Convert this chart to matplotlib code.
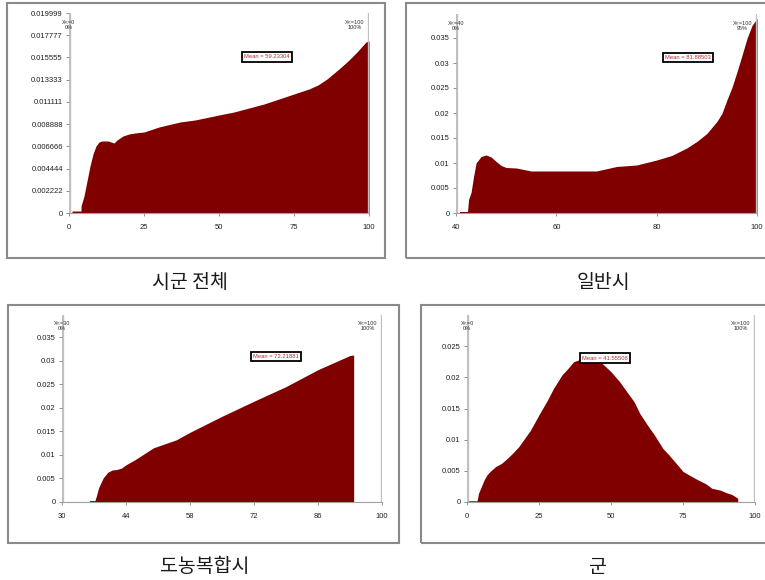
import matplotlib
matplotlib.use("Agg")
import matplotlib.pyplot as plt
from matplotlib.patches import Rectangle

plt.rcParams["font.family"] = ["Liberation Sans", "DejaVu Sans"]

# 시군 전체
all_x = [1, 4, 4.01, 5, 6, 7, 8, 9, 10, 11, 13, 15, 16, 18, 20, 22, 25, 30, 37, 42, 50,
         55, 60, 65, 70, 75, 80, 83, 86, 90, 93, 96, 99, 100]
all_y = [0.0002, 0.0002, 0.0007, 0.0017, 0.0032, 0.0047, 0.0059, 0.0067, 0.0071, 0.0072,
         0.0072, 0.0070, 0.0073, 0.0077, 0.0079, 0.0080, 0.0081, 0.0086, 0.0091, 0.0093,
         0.0098, 0.0101, 0.0105, 0.0109, 0.0114, 0.0119, 0.0124, 0.0128, 0.0134, 0.0144,
         0.0152, 0.0161, 0.0171, 0.0172]

# 일반시
city_x = [40.7, 42.3, 42.5, 43, 43.5, 44, 45, 46, 47, 48, 49, 50, 52, 55, 60, 65, 68, 72,
          76, 80, 83, 86, 88, 90, 92, 93, 94, 95, 96, 97, 98, 99, 100]
city_y = [0.0003, 0.0003, 0.0027, 0.0041, 0.0073, 0.0100, 0.0113, 0.0116, 0.0112, 0.0103,
          0.0095, 0.0091, 0.0090, 0.0084, 0.0084, 0.0084, 0.0084, 0.0093, 0.0096, 0.0106,
          0.0115, 0.0130, 0.0143, 0.0159, 0.0183, 0.0199, 0.0226, 0.0251, 0.0282, 0.0315,
          0.0349, 0.0375, 0.0389]

# 도농복합시
mixed_x = [36.0, 37.2, 37.5, 38, 39, 40, 41, 42, 43, 44, 46, 50, 55, 58, 65, 72, 79, 86, 93, 93.8]
mixed_y = [0.0003, 0.0003, 0.0012, 0.0030, 0.0051, 0.0063, 0.0068, 0.0069, 0.0072, 0.0079,
           0.0090, 0.0115, 0.0132, 0.0148, 0.0182, 0.0214, 0.0245, 0.0281, 0.0311, 0.0312]

# 군
county_x = [0.5, 3.5, 4, 5, 6, 7, 8, 10, 12, 14, 16, 18, 20, 22, 25, 28, 30, 33, 35, 37, 40,
            42, 45, 47, 50, 53, 55, 58, 60, 63, 65, 68, 70, 73, 75, 78, 80, 83, 85, 88, 90,
            92, 94]
county_y = [0.0002, 0.0002, 0.0014, 0.0025, 0.0036, 0.0044, 0.0049, 0.0057, 0.0062, 0.0070,
            0.0079, 0.0089, 0.0102, 0.0115, 0.0140, 0.0164, 0.0182, 0.0204, 0.0214, 0.0225,
            0.0230, 0.0233, 0.0228, 0.0222, 0.0209, 0.0193, 0.0180, 0.0161, 0.0142, 0.0121,
            0.0108, 0.0086, 0.0076, 0.0060, 0.0049, 0.0041, 0.0036, 0.0029, 0.0022, 0.0019,
            0.0015, 0.0012, 0.0006]

all_yticks = [0, 0.002222, 0.004444, 0.006666, 0.008888, 0.011111, 0.013333,
              0.015555, 0.017777, 0.019999]
all_yticklabels = ["0", "0.002222", "0.004444", "0.006666", "0.008888", "0.011111",
                   "0.013333", "0.015555", "0.017777", "0.019999"]
y035_ticks = [0, 0.005, 0.01, 0.015, 0.02, 0.025, 0.03, 0.035]
y025_ticks = [0, 0.005, 0.01, 0.015, 0.02, 0.025]

panels = [
    dict(x=all_x, y=all_y, xlim=(0, 100), ylim=(0, 0.019999), xticks=[0, 25, 50, 75, 100],
         yticks=all_yticks, yticklabels=all_yticklabels,
         left="X<=0\n0%", right="X<=100\n100%", mean="Mean = 59.23304",
         rect=[69, 13, 369, 213], frame=[7, 3, 385, 258], mean_pos=(0.66, 0.78),
         caption="시군 전체", cap_pos=(190, 282)),
    dict(x=city_x, y=city_y, xlim=(40, 100), ylim=(0, 0.0398), xticks=[40, 60, 80, 100],
         yticks=y035_ticks, yticklabels=[f"{v:g}" for v in y035_ticks],
         left="X<=40\n0%", right="X<=100\n95%", mean="Mean = 81.88503",
         rect=[456, 14, 757, 213], frame=[406, 3, 775, 258], mean_pos=(0.77, 0.78),
         caption="일반시", cap_pos=(603, 282)),
    dict(x=mixed_x, y=mixed_y, xlim=(30, 100), ylim=(0, 0.0397),
         xticks=[30, 44, 58, 72, 86, 100],
         yticks=y035_ticks, yticklabels=[f"{v:g}" for v in y035_ticks],
         left="X<=30\n0%", right="X<=100\n100%", mean="Mean = 72.21881",
         rect=[62, 315, 382, 502], frame=[8, 305, 399, 543], mean_pos=(0.67, 0.78),
         caption="도농복합시", cap_pos=(205, 567)),
    dict(x=county_x, y=county_y, xlim=(0, 100), ylim=(0, 0.030), xticks=[0, 25, 50, 75, 100],
         yticks=y025_ticks, yticklabels=[f"{v:g}" for v in y025_ticks],
         left="X<=0\n0%", right="X<=100\n100%", mean="Mean = 41.55508",
         rect=[467, 315, 755, 502], frame=[421, 305, 775, 543], mean_pos=(0.48, 0.77),
         caption="군", cap_pos=(598, 567)),
]

W, H = 765, 580
fig = plt.figure(figsize=(W / 100, H / 100), dpi=100)

for p in panels:
    fx0, fy0, fx1, fy1 = p["frame"]
    fig.patches.append(Rectangle((fx0 / W, 1 - fy1 / H), (fx1 - fx0) / W, (fy1 - fy0) / H,
                                 transform=fig.transFigure, fill=False,
                                 edgecolor="#8a8a8a", linewidth=1.5))
    x0, y0, x1, y1 = p["rect"]
    ax = fig.add_axes([x0 / W, 1 - y1 / H, (x1 - x0) / W, (y1 - y0) / H])
    ax.fill_between(p["x"], p["y"], 0, color="#800000", linewidth=0)
    ax.set_xlim(*p["xlim"])
    ax.set_ylim(*p["ylim"])
    ax.set_xticks(p["xticks"])
    ax.set_xticklabels([str(t) for t in p["xticks"]])
    ax.set_yticks(p["yticks"])
    ax.set_yticklabels(p["yticklabels"])
    for s in ["top", "right", "left"]:
        ax.spines[s].set_visible(False)
    ax.spines["bottom"].set_color("#a0a0a0")
    ax.spines["bottom"].set_linewidth(0.8)
    ax.tick_params(axis="both", labelsize=5.5, length=2, width=0.6, color="#808080",
                   labelcolor="#202020", pad=2.5)
    ax.tick_params(axis="x", pad=6)

    # gray delimiter bars
    for xv in p["xlim"]:
        ax.axvline(xv, color="#c0c0c0", linewidth=2.4, zorder=1)
    tr = ax.get_xaxis_transform()
    ax.text(p["xlim"][0], 0.94, p["left"], transform=tr, fontsize=4, ha="center",
            va="center", color="#303030", linespacing=1.1)
    ax.text(p["xlim"][1] - (p["xlim"][1] - p["xlim"][0]) * 0.015, 0.94, p["right"],
            transform=tr, fontsize=4, ha="right", va="center", color="#303030",
            linespacing=1.1, multialignment="center")
    ax.text(p["mean_pos"][0], p["mean_pos"][1], p["mean"], transform=ax.transAxes,
            fontsize=4.2, color="#b03030", ha="center", va="center", zorder=5,
            bbox=dict(boxstyle="square,pad=0.35", facecolor="white", edgecolor="black",
                      linewidth=1.3))
    fig.text(p["cap_pos"][0] / W, 1 - p["cap_pos"][1] / H, p["caption"],
             family=["Noto Sans CJK KR", "DejaVu Sans"], fontsize=14, ha="center",
             va="center", color="#1a1a1a", fontweight="light")

fig.savefig("out.png", dpi=100)
